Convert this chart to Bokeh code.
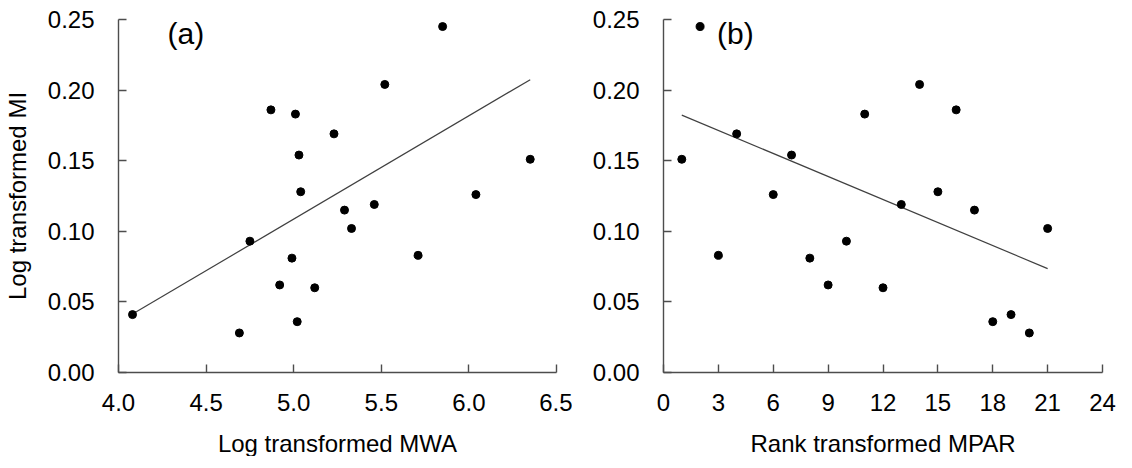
from bokeh.plotting import figure
from bokeh.layouts import row
from bokeh.models import Range1d, FixedTicker, PrintfTickFormatter, Label
from bokeh.embed import file_html
from bokeh.resources import INLINE

# ---- data ----
mwa = [5.85, 5.52, 4.87, 5.01, 5.23, 5.03, 6.35, 5.04, 6.04, 5.29,
       5.46, 5.33, 4.75, 4.99, 5.71, 4.92, 5.12, 4.08, 5.02, 4.69]
mi = [0.245, 0.204, 0.186, 0.183, 0.169, 0.154, 0.151, 0.128, 0.126, 0.115,
      0.119, 0.102, 0.093, 0.081, 0.083, 0.062, 0.060, 0.041, 0.036, 0.028]
mpar_rank = [2, 14, 16, 11, 4, 7, 1, 15, 6, 17,
             13, 21, 10, 8, 3, 9, 12, 19, 18, 20]

fit_a_x = [4.08, 6.35]
fit_a_y = [0.0414, 0.2074]
fit_b_x = [1, 21]
fit_b_y = [0.1823, 0.0736]

x_ticks_a = [4.0, 4.5, 5.0, 5.5, 6.0, 6.5]
x_ticks_b = [0, 3, 6, 9, 12, 15, 18, 21, 24]
y_ticks = [0.0, 0.05, 0.10, 0.15, 0.20, 0.25]

FONT = "Liberation Sans"
AX = "#4d4d4d"


def style(p, xticks, xfmt):
    p.xaxis.ticker = FixedTicker(ticks=xticks)
    p.yaxis.ticker = FixedTicker(ticks=y_ticks)
    p.xaxis.formatter = PrintfTickFormatter(format=xfmt)
    p.yaxis.formatter = PrintfTickFormatter(format="%.2f")
    for ax in (p.xaxis[0], p.yaxis[0]):
        ax.axis_line_color = AX
        ax.axis_line_width = 1.4
        ax.major_tick_line_color = AX
        ax.major_tick_line_width = 1.4
        ax.major_tick_in = 8
        ax.major_tick_out = 0
        ax.minor_tick_line_color = None
        ax.major_label_text_font = FONT
        ax.major_label_text_font_size = "24px"
        ax.major_label_text_color = "black"
        ax.axis_label_text_font = FONT
        ax.axis_label_text_font_size = "24px"
        ax.axis_label_text_font_style = "normal"
        ax.axis_label_text_color = "black"
    p.yaxis.major_label_standoff = 24
    p.xaxis.major_label_standoff = 21
    p.xaxis.axis_label_standoff = 16
    p.grid.grid_line_color = None
    p.outline_line_color = None
    p.background_fill_color = "white"
    p.border_fill_color = "white"


p1 = figure(frame_width=438, frame_height=353, output_backend="svg", toolbar_location=None,
            x_range=Range1d(4.0, 6.5), y_range=Range1d(0, 0.25),
            min_border_left=116, min_border_top=16, min_border_right=16, min_border_bottom=83)
style(p1, x_ticks_a, "%.1f")
p1.xaxis.axis_label = "Log transformed MWA"
p1.yaxis.axis_label = "Log transformed MI"
p1.yaxis.axis_label_standoff = 14
p1.line(fit_a_x, fit_a_y, line_color="#404040", line_width=1.2)
p1.scatter(mwa, mi, size=8, fill_color="black", line_color="black")
p1.add_layout(Label(x=4.28, y=0.252, text="(a)", text_font=FONT, text_font_size="30px",
                    text_baseline="top", text_align="left", text_color="black"))

p2 = figure(frame_width=439, frame_height=353, output_backend="svg", toolbar_location=None,
            x_range=Range1d(0, 24), y_range=Range1d(0, 0.25),
            min_border_left=91, min_border_top=19, min_border_right=16, min_border_bottom=80)
style(p2, x_ticks_b, "%d")
p2.xaxis.axis_label = "Rank transformed MPAR"
p2.line(fit_b_x, fit_b_y, line_color="#404040", line_width=1.2)
p2.scatter(mpar_rank, mi, size=8, fill_color="black", line_color="black")
p2.add_layout(Label(x=2.93, y=0.252, text="(b)", text_font=FONT, text_font_size="30px",
                    text_baseline="top", text_align="left", text_color="black"))

layout = row(p1, p2)
open("out.html", "w").write(file_html(layout, INLINE))
